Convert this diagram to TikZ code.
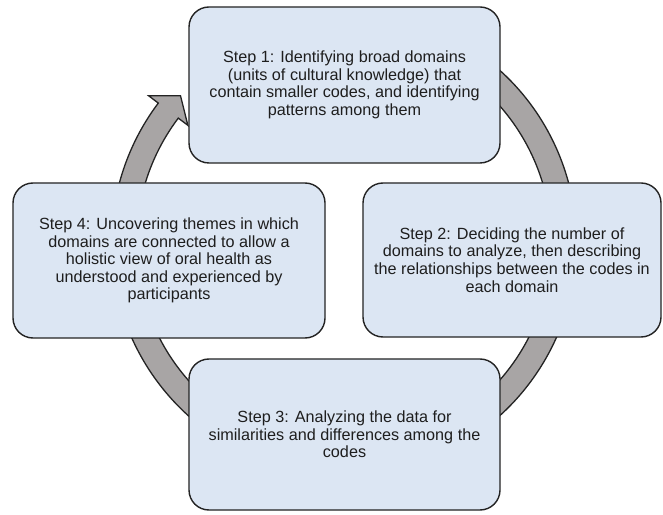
\documentclass[tikz,border=0pt]{standalone}
\usepackage{fontspec}
\setmainfont{Liberation Sans}
\usetikzlibrary{calc}
\definecolor{boxfill}{RGB}{220,230,243}
\definecolor{ringfill}{RGB}{168,165,165}
\definecolor{edge}{RGB}{35,35,35}
\definecolor{txt}{RGB}{30,30,30}
\begin{document}
\begin{tikzpicture}[x=1pt,y=1pt,
  stepbox/.style={draw=edge, line width=1.4pt, fill=boxfill, rounded corners=20pt,
    align=center, inner sep=0pt, font=\fontsize{16.2}{17.6}\selectfont, text=txt},
  ring/.style={draw=edge, line width=1.3pt, fill=ringfill, line join=miter}]
\useasboundingbox (0,0) rectangle (663,514);
\fill[white] (0,0) rectangle (663,514);
\coordinate (c) at (344,271);
% circular arrow ring (behind the boxes)
\draw[ring] ($(c)+(60:232.5)$) arc[start angle=60,end angle=-217,radius=232.5]
  -- ($(c)+(-217:244.5)$) -- ($(c)+(-222:220)$) -- ($(c)+(-217:195.5)$)
  -- ($(c)+(-217:207.5)$) arc[start angle=-217,end angle=60,radius=207.5] -- cycle;
% boxes
\node[stepbox, minimum width=311, minimum height=156] (s1) at (344.5,429)
  {Step 1: Identifying broad domains\\(units of cultural knowledge) that\\contain smaller codes, and identifying\\patterns among them};
\node[stepbox, minimum width=298, minimum height=154] (s2) at (512,254)
  {Step 2: Deciding the number of\\domains to analyze, then describing\\the relationships between the codes in\\each domain};
\node[stepbox, minimum width=311, minimum height=151] (s3) at (344.5,79.5)
  {Step 3: Analyzing the data for\\similarities and differences among the\\codes};
\node[stepbox, minimum width=312, minimum height=155] (s4) at (169,253.5)
  {Step 4: Uncovering themes in which\\domains are connected to allow a\\holistic view of oral health as\\understood and experienced by\\participants};
\end{tikzpicture}
\end{document}
